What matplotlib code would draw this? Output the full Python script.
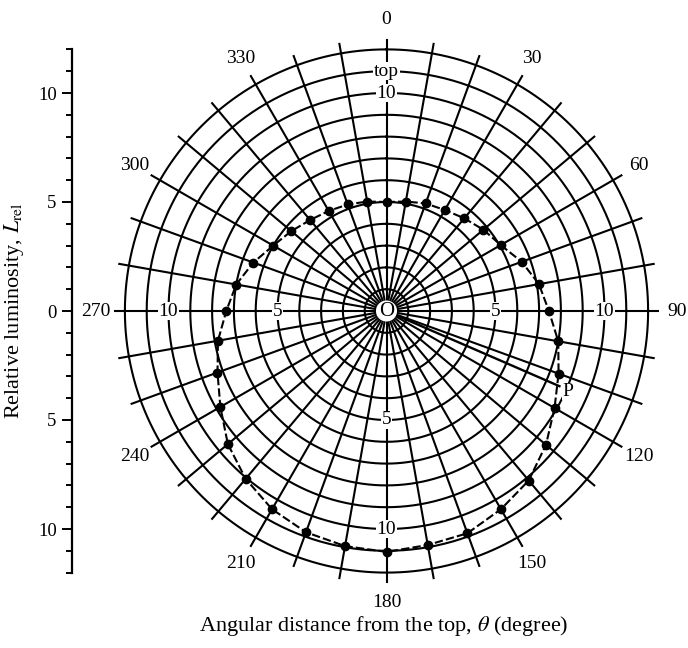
import numpy as np
import matplotlib.pyplot as plt

plt.rcParams["font.family"] = ["Liberation Serif", "DejaVu Serif"]
plt.rcParams["mathtext.fontset"] = "stix"

# Measured luminosity vs angular distance from the top (degrees, clockwise)
theta_deg = np.arange(0, 360, 10)
L_rel = [5.0, 5.1, 5.25, 5.35, 5.55, 5.8, 6.05, 6.6, 7.1, 7.45,
         8.0, 8.4, 8.9, 9.55, 10.15, 10.5, 10.85, 10.9, 11.05, 10.95,
         10.8, 10.5, 10.05, 9.5, 8.8, 8.25, 7.85, 7.35, 7.0, 6.5,
         6.0, 5.7, 5.45, 5.3, 5.2, 5.1]

angle_ticks = np.arange(0, 360, 30)
ring_radii = np.arange(1, 13)
lum_ticks = [-10, -5, 0, 5, 10]
lum_ticklabels = ["10", "5", "0", "5", "10"]

# direction to point P and its distance from O
p_angle, p_len = 113.5, 8.65

W, H = 688, 648
cx, cy = 386.5, 311.0      # centre O in pixels
px_per_unit = 21.8
r_lim = 12.5

fig = plt.figure(figsize=(W / 100, H / 100), dpi=100)

half = r_lim * px_per_unit
ax = fig.add_axes([(cx - half) / W, (H - cy - half) / H, 2 * half / W, 2 * half / H],
                  projection="polar")
ax.set_theta_zero_location("N")
ax.set_theta_direction(-1)
ax.set_ylim(0, r_lim)
ax.grid(False)
ax.spines["polar"].set_visible(False)
ax.set_xticks([])
ax.set_yticks([])
ax.patch.set_alpha(0)

lw = 1.5
tt = np.linspace(0, 2 * np.pi, 721)
for r in ring_radii:
    ax.plot(tt, np.full_like(tt, r), color="black", lw=lw, zorder=1)
for a in range(0, 360, 10):
    ax.plot([np.radians(a)] * 2, [0, 12.45], color="black", lw=lw, zorder=1)

# angle labels outside the outer ring
for a in angle_ticks:
    ax.text(np.radians(a), 13.35, str(a), ha="center", va="center", fontsize=14,
            clip_on=False)

# radial scale labels on the four main axes
box = dict(facecolor="white", edgecolor="none", pad=0.6)
for a, r, s in [(0, 10, "10"), (0, 11, "top"), (270, 10, "10"), (270, 5, "5"),
                (90, 5, "5"), (90, 10, "10"), (180, 5, "5"), (180, 10, "10")]:
    ax.text(np.radians(a), r, s, ha="center", va="center", fontsize=14,
            bbox=box, zorder=3)

# data: dashed line through the points, closed loop
th = np.radians(np.append(theta_deg, 360))
rr = np.append(L_rel, L_rel[0])
ax.plot(th, rr, color="black", lw=1.5, ls=(0, (4, 1.5)), zorder=4)
ax.plot(np.radians(theta_deg), L_rel, "o", color="black", ms=6, zorder=5)

# line O -> P
ax.plot([np.radians(p_angle)] * 2, [0, p_len], color="black", lw=1.7, zorder=4)
ax.text(np.radians(p_angle + 0.5), p_len + 0.45, "P", ha="center", va="center",
        fontsize=14, bbox=dict(facecolor="white", edgecolor="none", pad=0.2), zorder=6)

ax.text(0, 0, "O", ha="center", va="center", fontsize=15, zorder=6,
        bbox=dict(boxstyle="circle,pad=0.05", facecolor="white", edgecolor="none"))

# vertical luminosity scale on the left
top_px, bot_px = cy - 12 * px_per_unit, cy + 12 * px_per_unit
ax_l = fig.add_axes([72 / W, (H - bot_px) / H, 0.0005, (bot_px - top_px) / H])
ax_l.set_ylim(-12, 12)
ax_l.invert_yaxis()
for s in ["top", "right", "bottom"]:
    ax_l.spines[s].set_visible(False)
ax_l.spines["left"].set_linewidth(1.6)
ax_l.set_xticks([])
ax_l.set_yticks(lum_ticks)
ax_l.set_yticklabels(lum_ticklabels, fontsize=13.5)
ax_l.set_yticks(np.arange(-12, 13, 1), minor=True)
ax_l.tick_params(axis="y", which="major", length=7, width=1.4, direction="out", pad=4)
ax_l.tick_params(axis="y", which="minor", length=4, width=1.4, direction="out")
ax_l.patch.set_alpha(0)

fig.text(14 / W, 1 - cy / H, r"Relative luminosity, $L_{\mathrm{rel}}$", rotation=90,
         ha="center", va="center", fontsize=16)
fig.text(384 / W, 1 - 626 / H, r"Angular distance from the top, $\theta$ (degree)",
         ha="center", va="center", fontsize=16)

fig.savefig("out.png", dpi=100)
